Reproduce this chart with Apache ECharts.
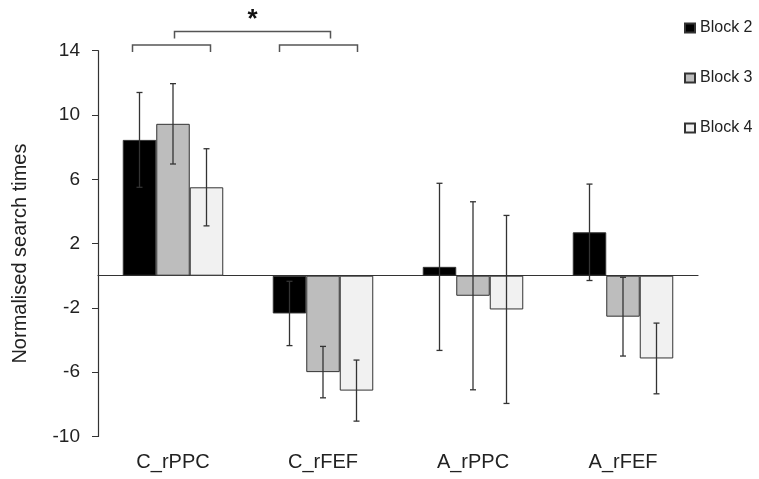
<!DOCTYPE html>
<html>
<head>
<meta charset="utf-8">
<script src="https://cdn.jsdelivr.net/npm/echarts@6/dist/echarts.min.js"></script>
<style>
  html, body { margin: 0; padding: 0; background: #fff; }
  #chart { width: 759px; height: 479px; }
</style>
</head>
<body>
<div id="chart"></div>
<script>
// data
var categories = ['C_rPPC', 'C_rFEF', 'A_rPPC', 'A_rFEF'];
var blockNames = ['Block 2', 'Block 3', 'Block 4'];
var block2 = [8.45, -2.35, 0.55, 2.7];
var block3 = [9.45, -6.0, -1.25, -2.55];
var block4 = [5.5, -7.15, -2.1, -5.15];
var block2Err = [2.95, 2.0, 5.2, 3.0];
var block3Err = [2.5, 1.6, 5.85, 2.45];
var block4Err = [2.4, 1.9, 5.85, 2.2];
var yTicks = [-10, -6, -2, 2, 6, 10, 14];
// significance brackets: [catFrom, offsetFrom, catTo, offsetTo, value]
var brackets = [
    [0, -0.27, 0, 0.25, 14.35],
    [1, -0.29, 1, 0.23, 14.35],
    [0, 0.01, 1, 0.05, 15.2]
];
var starMark = [[0.53, 15.95]];

var colors = ['#000000', '#bdbdbd', '#f1f1f1'];
var means = [block2, block3, block4];
var errs = [block2Err, block3Err, block4Err];
var font = 'Liberation Sans, Arial, sans-serif';

var myChart = echarts.init(document.getElementById('chart'));

var series = [];
//柱子
for (var b = 0; b < 3; b++) {
    series.push({
        name: blockNames[b],
        type: 'bar',
        barGap: '0%',
        barCategoryGap: '33%',
        itemStyle: { color: colors[b], borderColor: '#333', borderWidth: 1 },
        data: means[b]
    });
}
//误差线
for (var b2 = 0; b2 < 3; b2++) {
    (function (bi) {
        series.push({
            name: 'err' + bi,
            type: 'custom',
            z: 5,
            clip: false,
            renderItem: function (params, api) {
                var ci = api.value(0);
                var m = api.value(1);
                var e = api.value(2);
                var band = api.size([1, 0])[0];
                var bw = band * 0.67 / 3;
                var c = api.coord([ci, m]);
                var x = c[0] + (bi - 1) * bw;
                var top = api.coord([ci, m + e])[1];
                var bot = api.coord([ci, m - e])[1];
                var st = { stroke: '#333', lineWidth: 1.3 };
                return {
                    type: 'group',
                    children: [
                        { type: 'line', shape: { x1: x, y1: top, x2: x, y2: bot }, style: st },
                        { type: 'line', shape: { x1: x - 3, y1: top, x2: x + 3, y2: top }, style: st },
                        { type: 'line', shape: { x1: x - 3, y1: bot, x2: x + 3, y2: bot }, style: st }
                    ]
                };
            },
            data: categories.map(function (c, i) { return [i, means[bi][i], errs[bi][i]]; })
        });
    })(b2);
}
//显著性括号
series.push({
    name: 'sig',
    type: 'custom',
    clip: false,
    renderItem: function (params, api) {
        var band = api.size([1, 0])[0];
        var p1 = api.coord([api.value(0), api.value(4)]);
        var p2 = api.coord([api.value(2), api.value(4)]);
        var x1 = p1[0] + api.value(1) * band;
        var x2 = p2[0] + api.value(3) * band;
        var y = p1[1];
        return {
            type: 'polyline',
            shape: { points: [[x1, y + 7], [x1, y], [x2, y], [x2, y + 7]] },
            style: { stroke: '#555', lineWidth: 1.5, fill: null }
        };
    },
    data: brackets
});
series.push({
    name: 'star',
    type: 'custom',
    clip: false,
    renderItem: function (params, api) {
        var band = api.size([1, 0])[0];
        var p = api.coord([0, api.value(1)]);
        return {
            type: 'text',
            x: p[0] + api.value(0) * band,
            y: p[1],
            style: { text: '*', font: 'bold 26px ' + font, fill: '#111', align: 'center', verticalAlign: 'middle' }
        };
    },
    data: starMark
});

var option = {
    animation: false,
    textStyle: { fontFamily: font },
    legend: {
        orient: 'vertical',
        left: 679,
        top: 15,
        itemGap: 34,
        itemWidth: 10,
        itemHeight: 9,
        icon: 'rect',
        textStyle: { fontSize: 16, color: '#222', padding: [0, 0, 0, 0] },
        data: blockNames
    },
    grid: { left: 98, right: 61, top: 50.7, bottom: 42.6 },
    xAxis: [{
        type: 'category',
        position: 'top',
        data: categories,
        axisLine: { onZero: true, lineStyle: { color: '#333', width: 1.2 } },
        axisTick: { inside: true, length: 5, lineStyle: { color: '#333' } },
        axisLabel: { show: false }
    }, {
        type: 'category',
        position: 'bottom',
        data: categories,
        axisLine: { show: false, onZero: false },
        axisTick: { show: false },
        axisLabel: { fontSize: 20, color: '#222', margin: 16 }
    }],
    yAxis: {
        type: 'value',
        min: -10,
        max: 14,
        name: 'Normalised search times',
        nameLocation: 'middle',
        nameGap: 68,
        nameTextStyle: { fontSize: 20, color: '#222', padding: [0, 20, 0, 0] },
        axisLine: { show: true, lineStyle: { color: '#333', width: 1.2 } },
        axisTick: { show: true, length: 6, customValues: yTicks, lineStyle: { color: '#333' } },
        axisLabel: { fontSize: 19, color: '#222', margin: 18, customValues: yTicks },
        splitLine: { show: false }
    },
    series: series
};
myChart.setOption(option);
</script>
</body>
</html>
